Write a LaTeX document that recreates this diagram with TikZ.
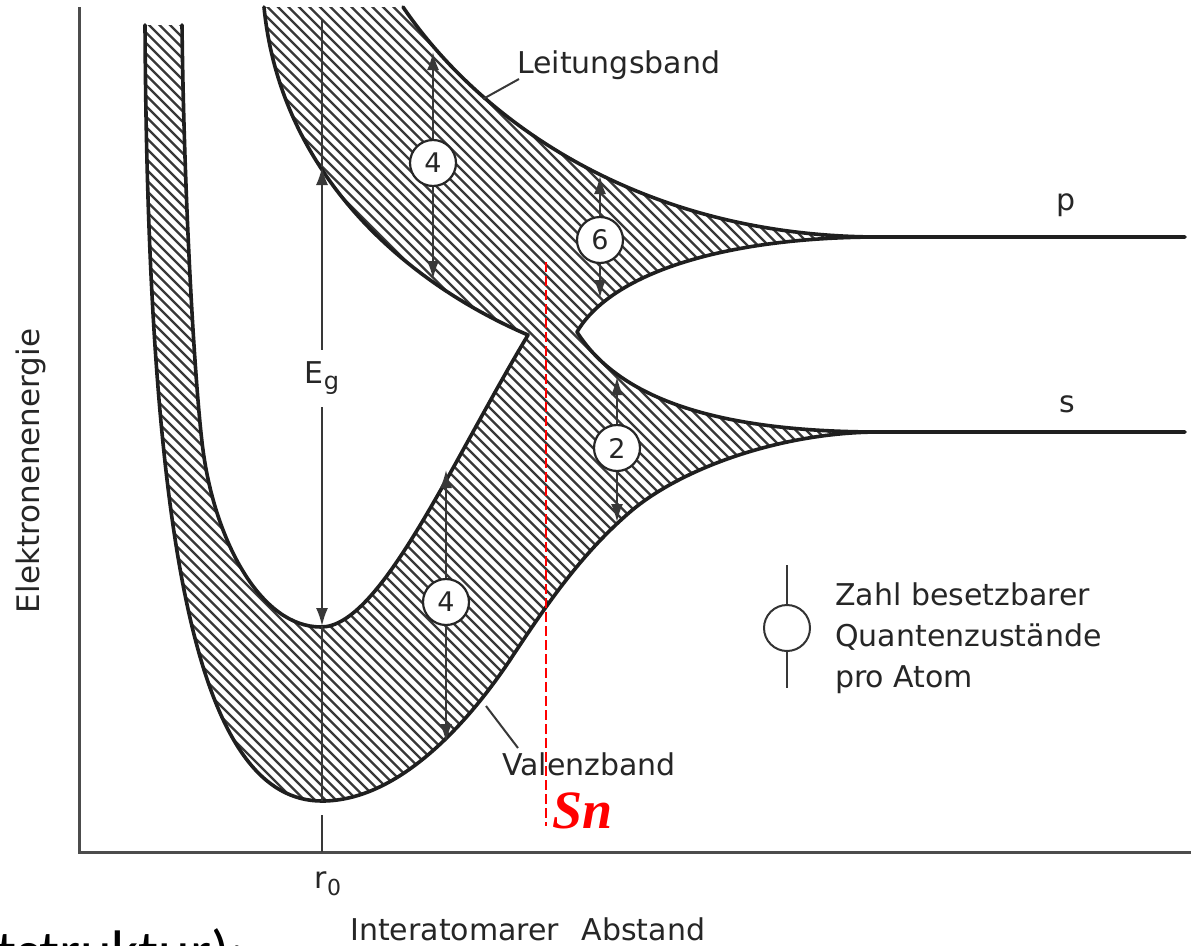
\documentclass[tikz,border=0pt]{standalone}
\usepackage{fontspec}
\setmainfont{DejaVu Sans}
\newfontfamily\snfont{Liberation Serif}
\newfontfamily\slidefont{Carlito}
\usetikzlibrary{arrows.meta}
% band boundary pieces (pixel coordinates, y downwards)
\def\pOuter{(145,25) .. controls (148,580) and (205,801) .. (322,801)
  .. controls (400,801) and (470,720) .. (510,660)
  .. controls (545,607) and (580,555) .. (630,512)
  .. controls (680,469) and (780,432) .. (880,432)}
\def\pSup{(880,432) .. controls (720,432) and (620,400) .. (577,332)}
\def\pPlow{(577,332) .. controls (610,275) and (720,237) .. (880,237)}
\def\pPup{(880,237) .. controls (640,237) and (480,120) .. (403,7)}
\def\pClow{(264,7) .. controls (280,170) and (400,280) .. (528,335)}
\def\pVtop{(528,335) .. controls (450,465) and (380,627) .. (321,627)
  .. controls (260,627) and (215,540) .. (203,450)
  .. controls (195,390) and (184,200) .. (182,25)}
\begin{document}
\begin{tikzpicture}[x=1pt,y=-1pt,
  edge/.style={line width=3.6pt, draw=black!88, line join=round, line cap=round},
  hatch/.style={line width=2.2pt, draw=black!78},
  thinl/.style={line width=2pt, draw=black!78},
  arr/.style={thinl, -{Latex[length=18pt,width=12pt]}},
  numc/.style={circle, draw=black!85, line width=2.2pt, fill=white, minimum size=46pt, inner sep=0pt, font=\fontsize{27}{27}\selectfont, text=black!85},
  lbl/.style={font=\fontsize{30}{36}\selectfont, text=black!85, inner sep=0pt},
  axis/.style={line width=3pt, draw=black!70},
]
\useasboundingbox[fill=white] (0,0) rectangle (1191,945);

% ---------- hatched band region ----------
\begin{scope}
\clip \pOuter -- \pSup -- \pPlow -- \pPup -- \pClow -- \pVtop -- cycle;
\foreach \i in {0,...,170} \draw[hatch] ({-800+10.5*\i},0) -- ++(950,950);
\end{scope}

% ---------- band edges ----------
\draw[edge] \pOuter -- (1185,432);
\draw[edge] \pSup -- \pPlow -- (1185,237);
\draw[edge] \pPup;
\draw[edge] \pClow -- \pVtop;

% ---------- axes ----------
\coordinate (ytop) at (79,7);
\coordinate (origin) at (79,852);
\coordinate (xend) at (1191,852);
\draw[axis] (ytop) -- (origin) -- (xend);

% ---------- E_g arrow and r0 ----------
\coordinate (vtop) at (322,20);
\coordinate (egtop) at (322,167);
\coordinate (egbot) at (322,626);
\coordinate (vbot) at (322,801);
\coordinate (tick) at (322,815);
\node[lbl, minimum height=57pt] (Eg) at (322,378.5) {E\raisebox{-6pt}{\fontsize{24}{24}\selectfont g}};
\draw[thinl] (vtop) -- (egtop);
\draw[arr] (Eg.north) -- (egtop);
\draw[arr] (Eg.south) -- (egbot);
\draw[thinl] (egbot) -- (vbot);
\draw[thinl] (tick) -- (tick |- origin);
\node[lbl, anchor=base] (r0) at (328,888) {r\raisebox{-7pt}{\fontsize{22}{22}\selectfont 0}};

% ---------- state-count arrows ----------
\node[numc] (c4a) at (433,163) {4};
\coordinate (c4at) at (433,52);
\coordinate (c4ab) at (433,279);
\draw[arr] (c4a) -- (c4at);
\draw[arr] (c4a) -- (c4ab);

\node[numc] (c6) at (600,240) {6};
\coordinate (c6t) at (600,176);
\coordinate (c6b) at (600,298);
\draw[arr] (c6) -- (c6t);
\draw[arr] (c6) -- (c6b);

\node[numc] (c2) at (617,448) {2};
\coordinate (c2t) at (617,377);
\coordinate (c2b) at (617,522);
\draw[arr] (c2) -- (c2t);
\draw[arr] (c2) -- (c2b);

\node[numc] (c4v) at (446,602) {4};
\coordinate (c4vt) at (446,470);
\coordinate (c4vb) at (446,742);
\draw[arr] (c4v) -- (c4vt);
\draw[arr] (c4v) -- (c4vb);

% ---------- labels ----------
\node[lbl, anchor=base west] (leit) at (517,73) {Leitungsband};
\coordinate (leitA) at (519,79);
\coordinate (leitB) at (483,99);
\draw[thinl] (leitA) -- (leitB);

\node[lbl, anchor=base west] (val) at (502,775) {Valenzband};
\coordinate (valA) at (518,748);
\coordinate (valB) at (486,706);
\draw[thinl] (valA) -- (valB);

\node[lbl, anchor=base] (p) at (1066,210) {p};
\node[lbl, anchor=base] (s) at (1067,412) {s};

\node[lbl, anchor=base west] (xlab) at (350,940) {Interatomarer\hspace{0.75em}Abstand};
\node[lbl, rotate=90, font=\fontsize{31}{36}\selectfont] (ylab) at (31,471) {Elektronenenergie};

% ---------- legend ----------
\node[circle, draw=black!80, line width=2pt, minimum size=46pt, inner sep=0pt] (legc) at (787,628) {};
\coordinate (legt) at (787,565);
\coordinate (legb) at (787,688);
\draw[thinl] (legt) -- (legc.north);
\draw[thinl] (legc.south) -- (legb);
\node[lbl, anchor=base west] (leg1) at (835,605) {Zahl besetzbarer};
\node[lbl, anchor=base west] (leg2) at (835,646) {Quantenzustände};
\node[lbl, anchor=base west] (leg3) at (835,687) {pro Atom};

% ---------- Sn marker ----------
\coordinate (snt) at (546,262);
\coordinate (snb) at (546,826);
\draw[red, line width=2pt, dash pattern=on 10pt off 4pt] (snt) -- (snb);
\node[anchor=base west, inner sep=0pt, text=red, font=\snfont\bfseries\itshape\fontsize{54}{54}\selectfont] (sn) at (552,828) {Sn};

% ---------- slide remnant (cut by the lower edge) ----------
\node[anchor=base west, inner sep=0pt, font=\slidefont\fontsize{60}{60}\selectfont] (slide) at (-4,972) {tstruktur):};
\end{tikzpicture}
\end{document}
